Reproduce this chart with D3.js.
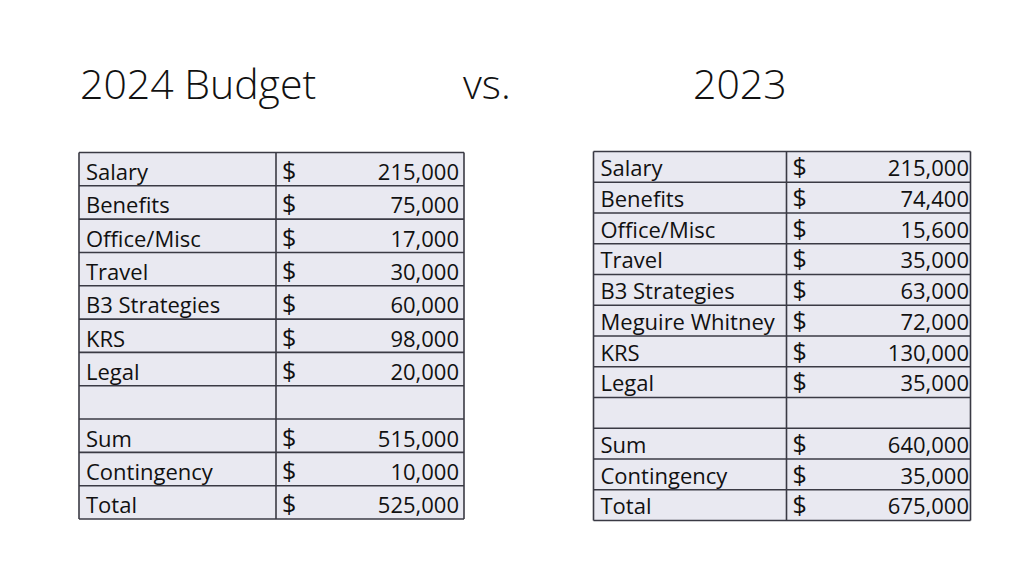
<!DOCTYPE html>
<html>
<head>
<meta charset="utf-8">
<script src="https://cdn.jsdelivr.net/npm/d3@7"></script>
<style>
  html, body { margin: 0; padding: 0; background: #fff; }
  svg { display: block; }
</style>
</head>
<body>
<svg id="chart" width="1024" height="576"></svg>
<script>
// ---- data ----
const titleParts = ["2024 Budget", "vs.", "2023"];
const labels2024 = ["Salary", "Benefits", "Office/Misc", "Travel", "B3 Strategies", "KRS", "Legal", "", "Sum", "Contingency", "Total"];
const values2024 = [215000, 75000, 17000, 30000, 60000, 98000, 20000, null, 515000, 10000, 525000];
const labels2023 = ["Salary", "Benefits", "Office/Misc", "Travel", "B3 Strategies", "Meguire Whitney", "KRS", "Legal", "", "Sum", "Contingency", "Total"];
const values2023 = [215000, 74400, 15600, 35000, 63000, 72000, 130000, 35000, null, 640000, 35000, 675000];

// ---- layout ----
const svg = d3.select("#chart");
const FONT = "'Open Sans', 'Noto Sans', sans-serif";
const fmt = d3.format(",");

// Title
const titleX = d3.scaleOrdinal().domain(titleParts).range([80, 463, 693]);
svg.selectAll("text.title")
  .data(titleParts)
  .join("text")
  .attr("class", "title")
  .attr("x", d => titleX(d))
  .attr("y", 99)
  .attr("font-family", FONT)
  .attr("font-weight", 300)
  .attr("font-size", 41)
  .attr("fill", "#111")
  .text(d => d);

function drawTable(labels, values, box) {
  const rows = labels.map((l, i) => ({ label: l, value: values[i], i }));
  const y = d3.scaleBand().domain(d3.range(rows.length)).range([box.top, box.bottom]).padding(0);
  const g = svg.append("g");

  // cell backgrounds
  g.append("rect")
    .attr("x", box.left).attr("y", box.top)
    .attr("width", box.right - box.left).attr("height", box.bottom - box.top)
    .attr("fill", "#e9e9f1");

  // horizontal lines
  const hl = d3.range(rows.length + 1).map(i => i < rows.length ? y(i) : box.bottom);
  g.selectAll("line.h").data(hl).join("line")
    .attr("x1", box.left).attr("x2", box.right)
    .attr("y1", d => d).attr("y2", d => d)
    .attr("stroke", "#3a3a44").attr("stroke-width", 1.6);
  // vertical lines
  g.selectAll("line.v").data([box.left, box.divider, box.right]).join("line")
    .attr("x1", d => d).attr("x2", d => d)
    .attr("y1", box.top).attr("y2", box.bottom)
    .attr("stroke", "#3a3a44").attr("stroke-width", 1.6);

  const rowG = g.selectAll("g.row").data(rows).join("g")
    .attr("transform", d => `translate(0,${y(d.i) + box.baseline})`);

  rowG.append("text")
    .attr("x", box.left + 7)
    .attr("font-family", FONT).attr("font-size", box.fs).attr("fill", "#111")
    .text(d => d.label);
  rowG.filter(d => d.value != null).append("text")
    .attr("x", box.divider + 6)
    .attr("font-family", FONT).attr("font-size", box.fs + 3).attr("fill", "#111")
    .text("$");
  rowG.filter(d => d.value != null).append("text")
    .attr("x", box.right - box.rpad)
    .attr("text-anchor", "end")
    .attr("font-family", FONT).attr("font-size", box.fs).attr("fill", "#111")
    .text(d => fmt(d.value));
}

drawTable(labels2024, values2024, { left: 79, divider: 276, right: 464, top: 152.5, bottom: 519, baseline: 27.5, fs: 22, rpad: 5 });
drawTable(labels2023, values2023, { left: 593.5, divider: 786.5, right: 970.5, top: 151.5, bottom: 520.5, baseline: 24.5, fs: 22, rpad: 1.5 });
</script>
</body>
</html>
